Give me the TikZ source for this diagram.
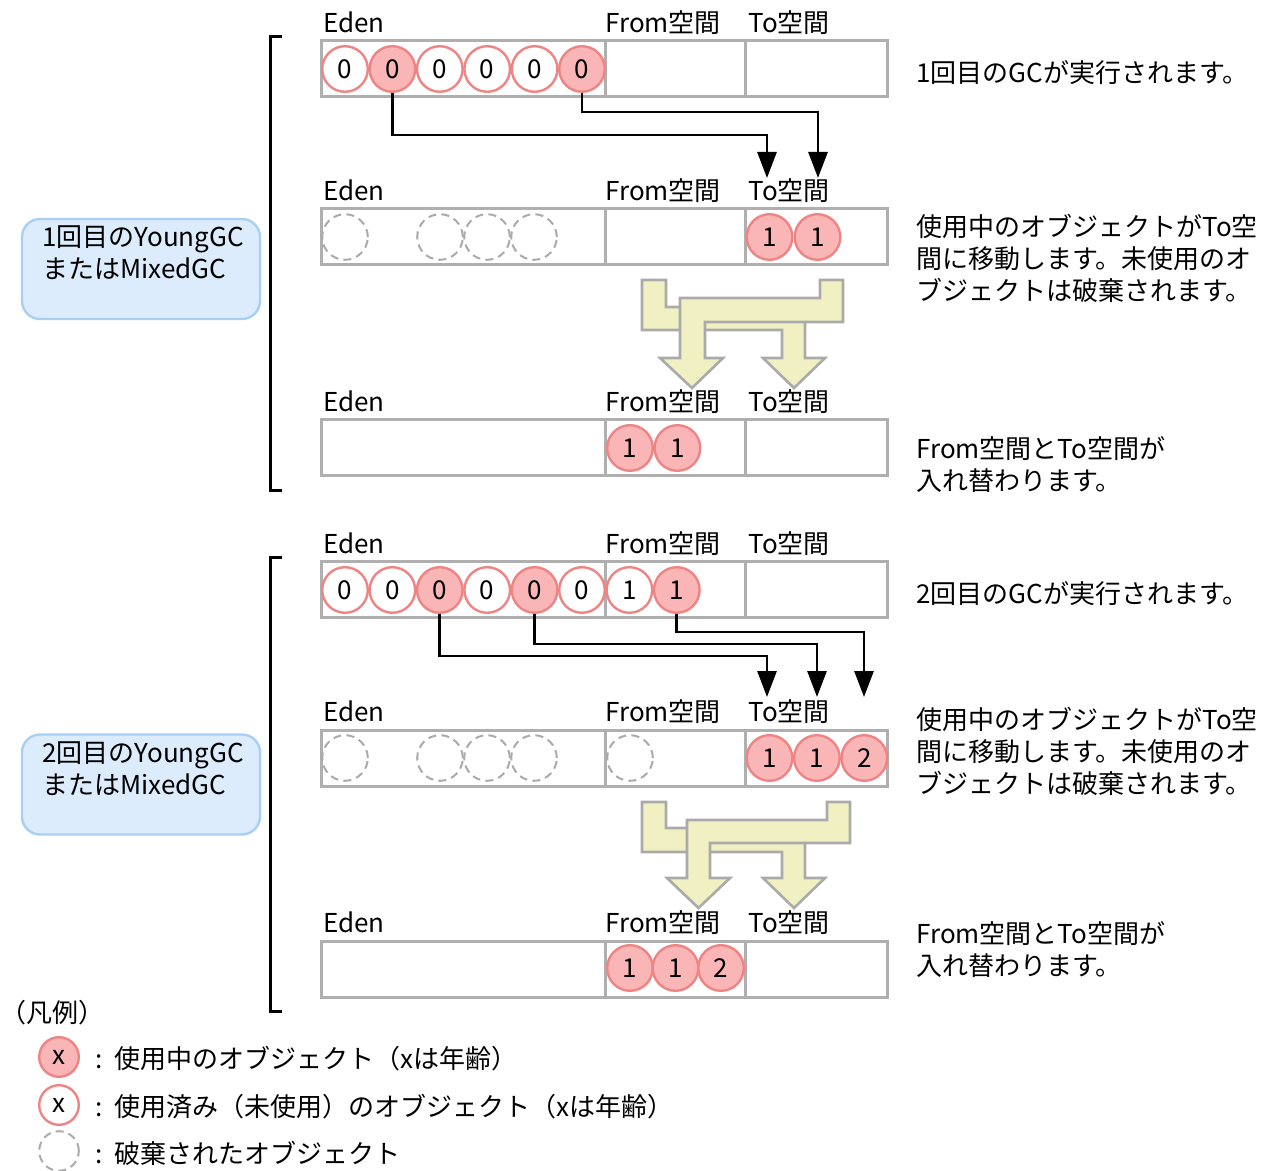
\documentclass[tikz,border=0pt]{standalone}
\usepackage{fontspec}
\setmainfont{Noto Sans CJK JP}
\usetikzlibrary{arrows.meta}
\definecolor{cfill}{RGB}{250,182,182}
\definecolor{cedge}{RGB}{238,132,132}
\definecolor{cgray}{RGB}{170,170,170}
\definecolor{bgray}{RGB}{175,175,175}
\definecolor{yfill}{RGB}{240,240,194}
\definecolor{yedge}{RGB}{170,170,170}
\definecolor{bfill}{RGB}{221,236,252}
\definecolor{bedge}{RGB}{168,208,244}
\begin{document}
\begin{tikzpicture}[x=0.5pt,y=-0.5pt, font=\fontsize{13}{16}\selectfont,
 obj/.style={circle, line width=1.2pt, minimum size=22.8pt, inner sep=0pt},
 live/.style={obj, draw=cedge, fill=cfill},
 used/.style={obj, draw=cedge, fill=white},
 gone/.style={obj, draw=cgray, line width=1pt, dash pattern=on 4pt off 2.6pt},
 lbl/.style={inner sep=0pt, anchor=west, text height=0.88em, text depth=0.12em, yshift=-1.5pt},
 heap/.style={draw=bgray, line width=1.5pt},
 arr/.style={draw=black, line width=1.4pt, -{Triangle[length=13pt,width=9.5pt]}},
 brk/.style={draw=black, line width=1.5pt},
 swap/.style={draw=yedge, fill=yfill, line width=1.3pt, line join=miter},
 gcbox/.style={draw=bedge, fill=bfill, line width=1.2pt, rounded corners=9pt, minimum width=119pt, minimum height=50pt}
]
\useasboundingbox (0,0) rectangle (1270,1171);

% heaps and their labels
\foreach \t [count=\i] in {41,209,420,562,730,941} {
  \draw[heap] (321,\t) rectangle (887,\t+56);
  \draw[heap] (605,\t) -- (605,\t+56);
  \draw[heap] (745,\t) -- (745,\t+56);
  \node[lbl] (eden\i) at (323,\t-19) {Eden};
  \node[lbl] (from\i) at (605,\t-19) {From空間};
  \node[lbl] (to\i) at (748,\t-19) {To空間};
}

% brackets
\draw[brk] (282,37) -- (270,37) -- (270,491) -- (282,491);
\draw[brk] (282,558) -- (270,558) -- (270,1011) -- (282,1011);

% GC boxes
\node[gcbox] (g1) at (141,269) {};
\node[lbl, align=left] (g1t) at (42,268) {1回目のYoungGC\\またはMixedGC};
\node[gcbox] (g2) at (141,784.5) {};
\node[lbl, align=left] (g2t) at (42,784) {2回目のYoungGC\\またはMixedGC};

% row 1
\foreach \s [count=\i] in {used,live,used,used,used,live}
  \node[\s] (r1c\i) at ({345+47.4*(\i-1)},69) {0};
% row 2
\foreach \x [count=\i] in {345,440,487,534}
  \node[gone] (r2g\i) at (\x,237) {};
\node[live] (r2t1) at (769.5,237) {1};
\node[live] (r2t2) at (817.5,237) {1};
% row 3
\node[live] (r3f1) at (630,448) {1};
\node[live] (r3f2) at (677.4,448) {1};

% arrows row 1 -> row 2
\coordinate (t11) at (767,178);
\coordinate (t12) at (818,178);
\draw[arr] (r1c2.south) -- ++(0,42) -| (t11);
\draw[arr] (r1c6.south) -- ++(0,19) -| (t12);

% swap 1
\draw[swap] (642,280) -- (666,280) -- (666,307) -- (805,307) -- (805,358) -- (825,358) -- (794,388) -- (763,358) -- (782,358) -- (782,330) -- (642,330) -- cycle;
\draw[swap] (820,280) -- (843,280) -- (843,322) -- (705,322) -- (705,358) -- (723,358) -- (692,388) -- (660,358) -- (680,358) -- (680,298) -- (820,298) -- cycle;

% row 4
\foreach \s/\v [count=\i] in {used/0,used/0,live/0,used/0,live/0,used/0,used/1,live/1}
  \node[\s] (r4c\i) at ({345+47.4*(\i-1)},590) {\v};
% row 5
\foreach \x [count=\i] in {345,440,487,534,630}
  \node[gone] (r5g\i) at (\x,758) {};
\node[live] (r5t1) at (769.5,758) {1};
\node[live] (r5t2) at (816.9,758) {1};
\node[live] (r5t3) at (864.3,758) {2};
% row 6
\node[live] (r6f1) at (630,968) {1};
\node[live] (r6f2) at (675.5,968) {1};
\node[live] (r6f3) at (721,968) {2};

% arrows row 4 -> row 5
\coordinate (t41) at (767,697);
\coordinate (t42) at (817,697);
\coordinate (t43) at (864,697);
\draw[arr] (r4c3.south) -- ++(0,42) -| (t41);
\draw[arr] (r4c5.south) -- ++(0,30) -| (t42);
\draw[arr] (r4c8.south) -- ++(0,18) -| (t43);

% swap 2
\draw[swap] (642,802) -- (666,802) -- (666,828) -- (805,828) -- (805,878) -- (825,878) -- (794,908) -- (763,878) -- (782,878) -- (782,852) -- (642,852) -- cycle;
\draw[swap] (827,802) -- (850,802) -- (850,843) -- (710,843) -- (710,878) -- (730,878) -- (698.5,908) -- (667,878) -- (687,878) -- (687,820) -- (827,820) -- cycle;

% right-hand texts
\node[lbl] (d1) at (916,72) {1回目のGCが実行されます。};
\node[lbl] (d2a) at (916,226) {使用中のオブジェクトがTo空};
\node[lbl] (d2b) at (916,258) {間に移動します。未使用のオ};
\node[lbl] (d2c) at (916,290) {ブジェクトは破棄されます。};
\node[lbl] (d3a) at (916,448) {From空間とTo空間が};
\node[lbl] (d3b) at (916,480) {入れ替わります。};
\node[lbl] (d4) at (916,593) {2回目のGCが実行されます。};
\node[lbl] (d5a) at (916,719) {使用中のオブジェクトがTo空};
\node[lbl] (d5b) at (916,751) {間に移動します。未使用のオ};
\node[lbl] (d5c) at (916,783) {ブジェクトは破棄されます。};
\node[lbl] (d6a) at (916,933) {From空間とTo空間が};
\node[lbl] (d6b) at (916,965) {入れ替わります。};

% legend
\node[lbl] (lgt) at (0,1012) {（凡例）};
\node[live, minimum size=19.8pt] (lg1) at (59,1057) {x};
\node[used, minimum size=19.8pt] (lg2) at (59,1105) {x};
\node[gone, minimum size=19.8pt] (lg3) at (59,1151) {};
\node[lbl] (lg1t) at (95,1058) {:\ \ 使用中のオブジェクト（xは年齢）};
\node[lbl] (lg2t) at (95,1106) {:\ \ 使用済み（未使用）のオブジェクト（xは年齢）};
\node[lbl] (lg3t) at (95,1153) {:\ \ 破棄されたオブジェクト};
\end{tikzpicture}
\end{document}
